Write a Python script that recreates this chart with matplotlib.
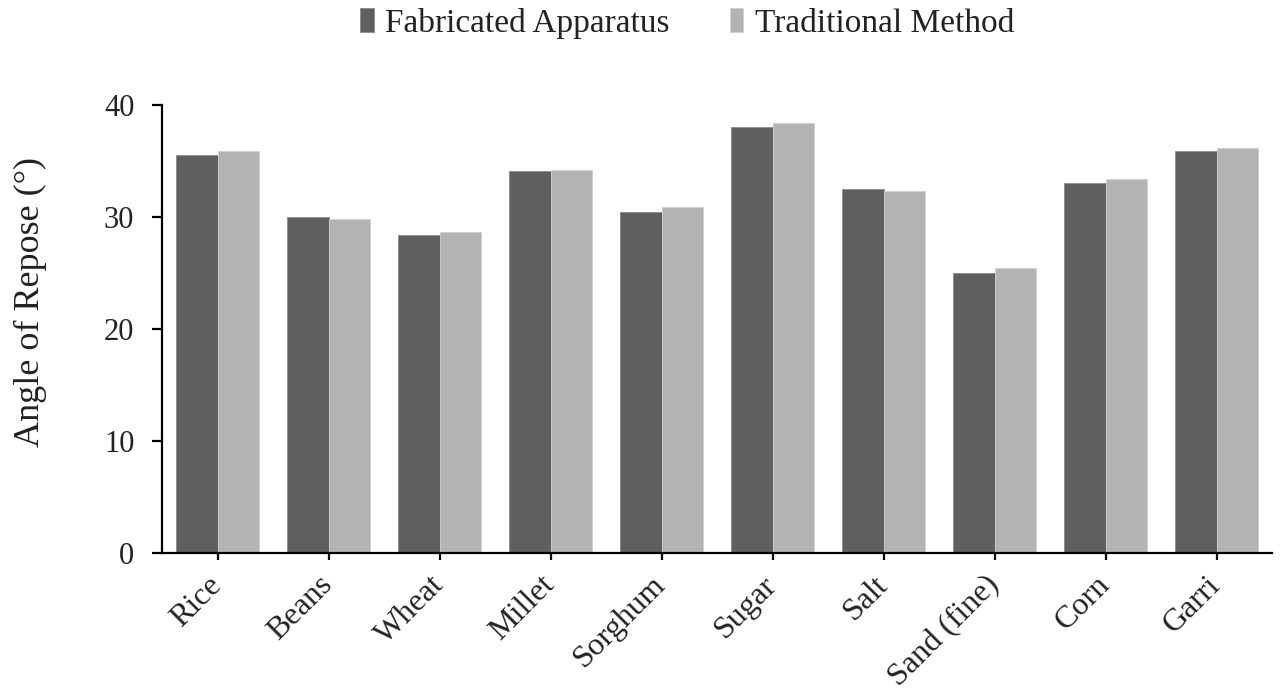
import matplotlib
matplotlib.use("Agg")
import matplotlib.pyplot as plt
import numpy as np

# angle of repose readings
materials = ["Rice", "Beans", "Wheat", "Millet", "Sorghum",
             "Sugar", "Salt", "Sand (fine)", "Corn", "Garri"]
fabricated = [35.5, 30.0, 28.4, 34.1, 30.4, 38.0, 32.5, 25.0, 33.0, 35.9]
traditional = [35.9, 29.8, 28.7, 34.2, 30.9, 38.4, 32.3, 25.4, 33.4, 36.2]
yticks = [0, 10, 20, 30, 40]

plt.rcParams["font.family"] = ["Liberation Serif", "DejaVu Serif"]

fig = plt.figure(figsize=(12.8, 6.97), dpi=100)
ax = fig.add_axes([0.1266, 0.2066, 0.8672, 0.6428])

x = np.arange(len(materials))
w = 0.37
ax.bar(x - w / 2, fabricated, w, color="#5f5f5f", edgecolor="#8a8a8a",
       linewidth=0.6, label="Fabricated Apparatus")
ax.bar(x + w / 2, traditional, w, color="#b3b3b3", edgecolor="#d0d0d0",
       linewidth=0.6, label="Traditional Method")

ax.set_xlim(-0.5, len(materials) - 0.5)
ax.set_ylim(0, 40)
ax.set_yticks(yticks)
ax.set_xticks(x)
ax.set_xticklabels(materials, rotation=45, ha="right", va="center",
                   rotation_mode="anchor")

for side in ["top", "right"]:
    ax.spines[side].set_visible(False)
for side in ["left", "bottom"]:
    ax.spines[side].set_linewidth(1.6)

ax.tick_params(axis="y", direction="out", length=7, width=1.6, pad=13,
               labelsize=22)
ax.tick_params(axis="x", direction="out", length=5, width=1.6, pad=15,
               labelsize=23)
ax.tick_params(which="both", colors="black", labelcolor="#222222")

ax.set_ylabel("Angle of Repose (°)", fontsize=26, color="#222222")
ax.yaxis.set_label_coords(-0.104, 0.56)

fig.legend(loc="upper center", bbox_to_anchor=(0.537, 1.032), ncol=2,
           frameon=False, fontsize=24, handlelength=0.4, handleheight=0.7,
           handletextpad=0.35, columnspacing=1.8, labelcolor="#222222")

fig.savefig("out.png", dpi=100, facecolor="white")
